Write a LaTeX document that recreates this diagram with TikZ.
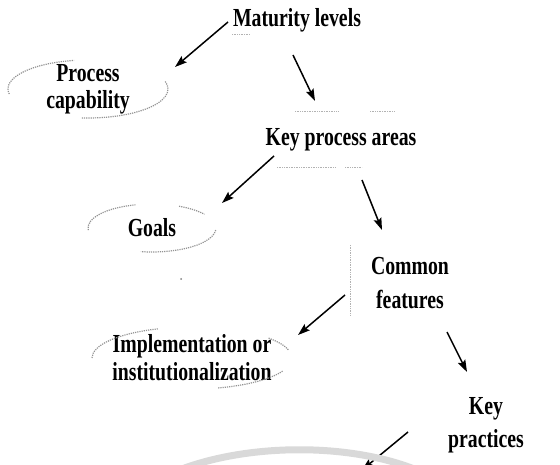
\documentclass[tikz,border=0pt]{standalone}
\usepackage{fontspec}
\setmainfont{Liberation Serif}[FakeStretch=0.76]
\usetikzlibrary{arrows.meta}
\begin{document}
\begin{tikzpicture}[x=1pt,y=-1pt,
  label/.style={font=\fontsize{26}{30}\selectfont\bfseries, align=center, inner sep=0pt},
  arr/.style={line width=1.5pt, -{Stealth[length=12pt,width=8pt,inset=2pt]}},
  smudge/.style={gray!85, line width=1.2pt, densely dotted},
  trace/.style={gray!60, line width=0.7pt, densely dotted}]
\useasboundingbox (0,0) rectangle (560,465);
\clip (0,0) rectangle (560,465);

% concept labels
\node[label] (ml)    at (297,20)  {Maturity levels};
\node[label] (pc)    at (88,89)   {Process\\[-3pt]capability};
\node[label] (kpa)   at (341,140) {Key process areas};
\node[label] (goals) at (152,228) {Goals};
\node[label] (cf)    at (410,283) {Common\\[4pt]features};
\node[label] (impl)  at (192,358) {Implementation or\\[-2pt]institutionalization};
\node[label] (kp)    at (486,425) {Key\\[3pt]practices};

% faded ellipses round the leaf concepts
\draw[smudge] (pc.center) ++(170:80 and 29) arc[start angle=170, end angle=260, x radius=80, y radius=29];
\draw[smudge] (pc.center) ++(-15:80 and 29) arc[start angle=-15, end angle=95, x radius=80, y radius=29];
\draw[smudge] (goals.center) ++(175:64 and 24) arc[start angle=175, end angle=255, x radius=64, y radius=24];
\draw[smudge] (goals.center) ++(5:64 and 24) arc[start angle=5, end angle=100, x radius=64, y radius=24];
\draw[smudge] (goals.center) ++(-65:64 and 24) arc[start angle=-65, end angle=-35, x radius=64, y radius=24];
\draw[smudge] (impl.center) ++(180:100 and 31) arc[start angle=180, end angle=250, x radius=100, y radius=31];
\draw[smudge] (impl.center) ++(-40:100 and 31) arc[start angle=-40, end angle=-15, x radius=100, y radius=31];
\draw[smudge] (impl.center) ++(25:100 and 31) arc[start angle=25, end angle=75, x radius=100, y radius=31];

% faint box traces
\draw[trace] (232,34) -- (250,34);
\draw[trace] (295,111) -- (338,111) (370,111) -- (395,111);
\draw[trace] (277,167) -- (335,167) (345,167) -- (362,167);
\draw[trace] (350,245) -- (350,315);
\fill[gray] (181,279) circle (1pt);

% connector end points
\coordinate (a1s) at (228,22);  \coordinate (a1e) at (175,67);
\coordinate (a2s) at (293,55);  \coordinate (a2e) at (315,101);
\coordinate (a3s) at (274,156); \coordinate (a3e) at (222,203);
\coordinate (a4s) at (362,180); \coordinate (a4e) at (382,230);
\coordinate (a5s) at (345,295); \coordinate (a5e) at (298,335);
\coordinate (a6s) at (447,332); \coordinate (a6e) at (467,372);
\coordinate (a7s) at (408,432); \coordinate (a7e) at (362,470);

\draw[arr] (a1s) -- (a1e);
\draw[arr] (a2s) -- (a2e);
\draw[arr] (a3s) -- (a3e);
\draw[arr] (a4s) -- (a4e);
\draw[arr] (a5s) -- (a5e);
\draw[arr] (a6s) -- (a6e);
\draw[arr] (a7s) -- (a7e);

% grey band along the lower edge
\draw[gray!30, line width=7pt] (165,476) .. controls (240,441) and (360,441) .. (430,476);
\end{tikzpicture}
\end{document}
